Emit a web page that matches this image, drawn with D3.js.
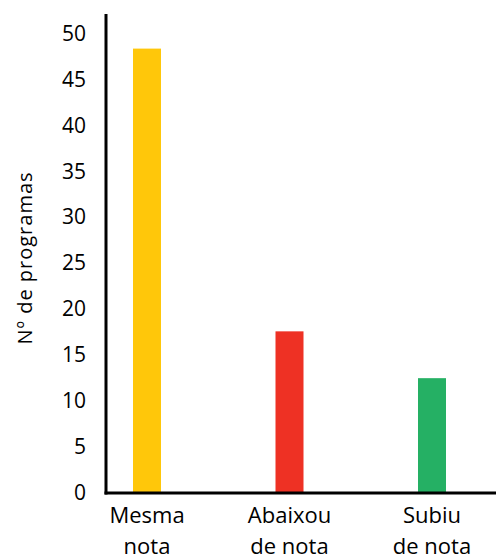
<!DOCTYPE html>
<html>
<head>
<meta charset="utf-8">
<script src="https://cdn.jsdelivr.net/npm/d3@7"></script>
<style>
  body { margin: 0; background: #fff; }
  text { font-family: "Open Sans", sans-serif; fill: #000; }
</style>
</head>
<body>
<div id="chart"></div>
<script>
const WIDTH = 496;
const HEIGHT = 556;

// data
const categories = [["Mesma", "nota"], ["Abaixou", "de nota"], ["Subiu", "de nota"]];
const values = [48.3, 17.5, 12.4];
const colors = ["#ffc70a", "#ee3124", "#25b064"];
const yTicks = [0, 5, 10, 15, 20, 25, 30, 35, 40, 45, 50];
const yTitle = "Nº de programas";

const axisX = 106;
const barW = 28;

let svg = d3.select("#chart").append("svg")
  .attr("width", WIDTH)
  .attr("height", HEIGHT);

let yscale = d3.scaleLinear()
  .domain([0, 50])
  .range([492, 33]);

let xscale = d3.scalePoint()
  .domain(d3.range(categories.length))
  .range([147, 432]);

// bars
svg.selectAll(".bar")
  .data(values)
  .enter().append("rect")
  .attr("class", "bar")
  .attr("x", (d, i) => xscale(i) - barW / 2)
  .attr("y", d => yscale(d))
  .attr("width", barW)
  .attr("height", d => yscale(0) - yscale(d))
  .attr("fill", (d, i) => colors[i]);

// y axis
let y_axis = d3.axisLeft(yscale)
  .tickValues(yTicks)
  .tickSize(0)
  .tickPadding(20);

let gy = svg.append("g")
  .attr("transform", "translate(" + axisX + ",0)")
  .call(y_axis);
gy.select(".domain").remove();
gy.selectAll("text")
  .style("font-size", "21px")
  .attr("dy", "0.35em");

// axis lines
svg.append("line")
  .attr("x1", axisX).attr("x2", axisX)
  .attr("y1", 14).attr("y2", yscale(0) + 2.5)
  .attr("stroke", "#000").attr("stroke-width", 3);
svg.append("line")
  .attr("x1", axisX - 1.5).attr("x2", WIDTH)
  .attr("y1", yscale(0) + 1).attr("y2", yscale(0) + 1)
  .attr("stroke", "#000").attr("stroke-width", 3);

// category labels (second line is cut by the bottom edge, as in the original)
categories.forEach((lines, i) => {
  lines.forEach((t, j) => {
    svg.append("text")
      .attr("x", xscale(i))
      .attr("y", 523 + j * 31)
      .attr("text-anchor", "middle")
      .style("font-size", "22px")
      .text(t);
  });
});

// y title
svg.append("text")
  .attr("transform", "translate(32,258) rotate(-90)")
  .attr("text-anchor", "middle")
  .style("font-size", "20px")
  .style("letter-spacing", "1px")
  .text(yTitle);
</script>
</body>
</html>
